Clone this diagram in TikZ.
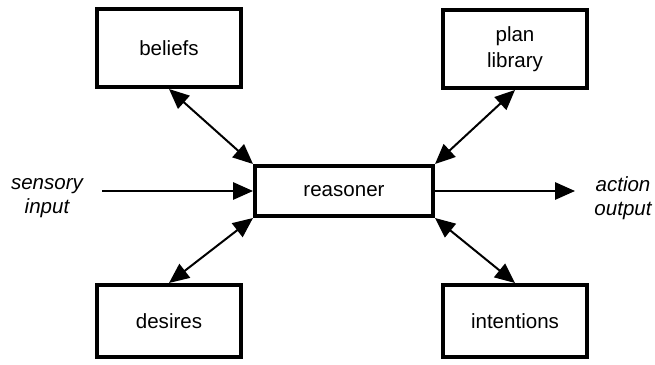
\documentclass[tikz,border=0pt]{standalone}
\usepackage{fontspec}
\setmainfont{Liberation Sans}
\usetikzlibrary{arrows.meta}
\begin{document}
\begin{tikzpicture}[x=0.75pt,y=-0.75pt,
  box/.style={draw,line width=3pt,rectangle,inner sep=0pt,align=center,
    minimum width=108pt,font=\fontsize{15.4}{19.5}\selectfont},
  link/.style={line width=1.5pt,-{Triangle[length=15pt,width=13pt]}},
  duplex/.style={line width=1.5pt,{Triangle[length=15pt,width=13pt]}-{Triangle[length=15pt,width=13pt]}},
  label/.style={align=center,inner sep=0pt,font=\fontsize{15.4}{18}\selectfont\itshape}]
\useasboundingbox (0,0) rectangle (655,364);
% the agent's components
\node[box,minimum height=58.5pt] (beliefs) at (169,48) {beliefs};
\node[box,minimum height=58.5pt] (plan) at (515,49) {plan\\library};
\node[box,minimum width=133.5pt,minimum height=37.5pt] (reasoner) at (344,191) {reasoner};
\node[box,minimum height=54pt] (desires) at (169,321) {desires};
\node[box,minimum height=54pt] (intentions) at (515,321) {intentions};
% external input and output
\node[label] (sensory) at (47,198) {sensory\\input};
\node[label] (action) at (623,198) {action\\output};
\coordinate (inStart) at (102,191);
\coordinate (outEnd) at (575,191);
% connectors
\draw[duplex] (beliefs.south) -- (reasoner.north west);
\draw[duplex] (reasoner.north east) -- (plan.south);
\draw[duplex] (reasoner.south west) -- (desires.north);
\draw[duplex] (reasoner.south east) -- (intentions.north);
\draw[link] (inStart) -- (reasoner.west);
\draw[link] (reasoner.east) -- (outEnd);
\end{tikzpicture}
\end{document}
